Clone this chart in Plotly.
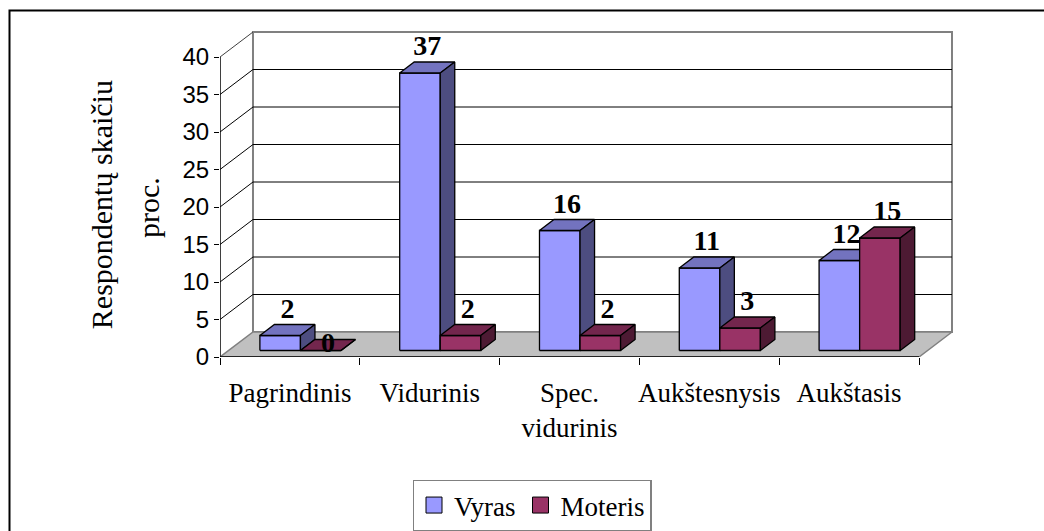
import plotly.graph_objects as go

categories = ["Pagrindinis", "Vidurinis", "Spec.<br>vidurinis", "Aukštesnysis", "Aukštasis"]
vyras = [2, 37, 16, 11, 12]
moteris = [0, 2, 2, 3, 15]
y_ticks = [0, 5, 10, 15, 20, 25, 30, 35, 40]

# fake 3d: how far the back wall sits from the front (x in categories, y in value units)
DX, DY = 0.236, 3.333
D0, D1 = 0.26, 0.70   # depth span of the columns
BAR_W = 0.29
series = [
    ("Vyras", vyras, 0.224, "#9999FF", "#7373BF", "#4D4D80"),
    ("Moteris", moteris, 0.514, "#993366", "#73264D", "#4D1A33"),
]
n = len(categories)
top = max(y_ticks)


def pt(x, v, d):
    return x + d * DX, v + d * DY


def poly(fig, pts, fill, line="black", width=1.3):
    xs = [p[0] for p in pts] + [pts[0][0]]
    ys = [p[1] for p in pts] + [pts[0][1]]
    fig.add_trace(go.Scatter(x=xs, y=ys, mode="lines", fill="toself", fillcolor=fill,
                             line=dict(color=line, width=width), hoverinfo="skip",
                             showlegend=False, cliponaxis=False))


def lines(fig, segs, color, width=1):
    xs, ys = [], []
    for s in segs:
        xs += [p[0] for p in s] + [None]
        ys += [p[1] for p in s] + [None]
    fig.add_trace(go.Scatter(x=xs, y=ys, mode="lines", line=dict(color=color, width=width),
                             hoverinfo="skip", showlegend=False, cliponaxis=False))


fig = go.Figure()

# back wall + gridlines
poly(fig, [pt(0, 0, 1), pt(n, 0, 1), pt(n, top, 1), pt(0, top, 1)], "white", "#808080", 2)
lines(fig, [[pt(0, v, 0), pt(0, v, 1), pt(n, v, 1)] for v in y_ticks[1:-1]], "black")
lines(fig, [[pt(0, top, 0), pt(0, top, 1)]], "#404040")

# floor
poly(fig, [pt(0, 0, 0), pt(n, 0, 0), pt(n, 0, 1), pt(0, 0, 1)], "#C0C0C0", "#808080", 1.5)
lines(fig, [[pt(0, top, 0), pt(0, 0, 0), pt(n, 0, 0)]], "black", 1.5)

# columns, left to right so the next one covers the side face
for i in range(n):
    for name, vals, off, c_front, c_top, c_side in series:
        v = vals[i]
        x0, x1 = i + off, i + off + BAR_W
        poly(fig, [pt(x0, 0, D0), pt(x1, 0, D0), pt(x1, v, D0), pt(x0, v, D0)], c_front)
        poly(fig, [pt(x0, v, D0), pt(x1, v, D0), pt(x1, v, D1), pt(x0, v, D1)], c_top)
        poly(fig, [pt(x1, 0, D0), pt(x1, 0, D1), pt(x1, v, D1), pt(x1, v, D0)], c_side)

# value labels
for name, vals, off, *_ in series:
    xs = [i + off + BAR_W / 2 + DX * (D0 + D1) / 2 for i in range(n)]
    ys = [v + D1 * DY if v > 0 else (D0 + D1) / 2 * DY for v in vals]
    pos = ["top center" if v > 0 else "middle center" for v in vals]
    fig.add_trace(go.Scatter(x=xs, y=ys, mode="text", text=[str(v) for v in vals],
                             textposition=pos, cliponaxis=False, showlegend=False,
                             textfont=dict(family="Liberation Serif", size=28, color="black",
                                           weight="bold")))

# legend entries
for name, vals, off, c_front, *_ in series:
    fig.add_trace(go.Scatter(x=[None], y=[None], mode="markers", name=name,
                             marker=dict(symbol="square", size=16, color=c_front,
                                         line=dict(color="black", width=1))))

L, R, T, B = 220, 84, 24, 174
W, H = 1044, 531
pw, ph = W - L - R, H - T - B

fig.add_annotation(text="Respondentų skaičiu", textangle=-90, xref="paper", yref="paper",
                   x=(101.7 - L) / pw, y=(H - B - 204.5) / ph, xanchor="center", yanchor="middle",
                   showarrow=False, font=dict(family="Liberation Serif", size=30, color="black"))
fig.add_annotation(text="proc.", textangle=-90, xref="paper", yref="paper",
                   x=(148 - L) / pw, y=(H - B - 208) / ph, xanchor="center", yanchor="middle",
                   showarrow=False, font=dict(family="Liberation Serif", size=30, color="black"))

# outer frame
fig.add_shape(type="rect", xref="paper", yref="paper",
              x0=(9.5 - L) / pw, x1=(1070 - L) / pw, y0=(H - B - 560) / ph, y1=(H - B - 10.5) / ph,
              line=dict(color="black", width=2), layer="below")

fig.update_layout(
    width=W, height=H, margin=dict(l=L, r=R, t=T, b=B),
    plot_bgcolor="white", paper_bgcolor="white",
    xaxis=dict(range=[0, pw / 139.8], tickvals=[i + 0.5 for i in range(n)], ticktext=categories,
               ticks="", showgrid=False, zeroline=False, showline=False, ticklabelstandoff=17,
               tickfont=dict(family="Liberation Serif", size=27, color="black"),
               minor=dict(tickvals=list(range(n + 1)), ticks="outside", ticklen=7,
                          tickcolor="black", showgrid=False)),
    yaxis=dict(range=[0, ph / 7.5], tickvals=y_ticks, ticks="outside", ticklen=5,
               tickcolor="black", showgrid=False, zeroline=False, showline=False,
               tickfont=dict(family="Liberation Sans", size=24, color="black")),
    legend=dict(orientation="h", xref="container", yref="container", x=532 / W, xanchor="center",
                y=(H - 505.5) / H, yanchor="middle", bordercolor="#808080", borderwidth=1.5,
                bgcolor="white", font=dict(family="Liberation Serif", size=27, color="black")),
)

fig.write_html("out.html", config={"displayModeBar": False},
               post_script="document.body.style.margin='0';document.body.style.overflow='hidden';")
